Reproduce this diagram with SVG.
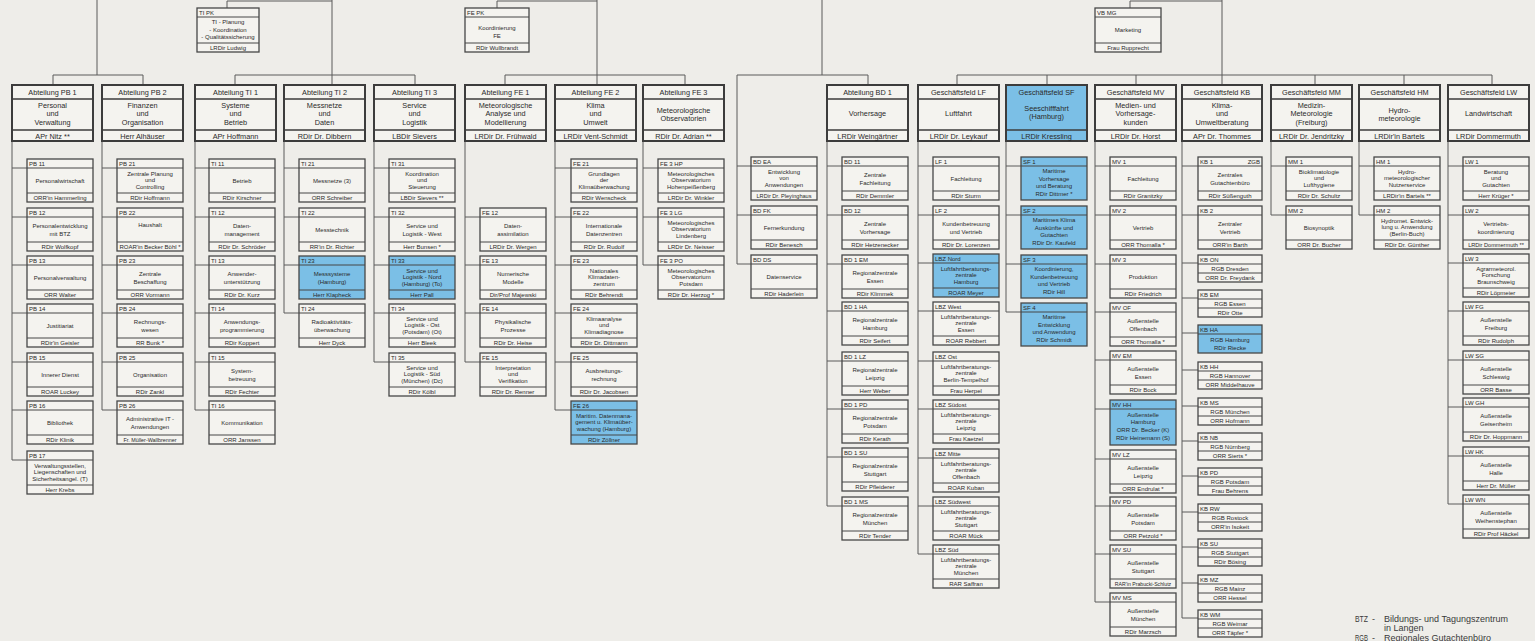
<svg xmlns="http://www.w3.org/2000/svg" width="1535" height="641" viewBox="0 0 1535 641">
<style>
.c{fill:none;stroke:#5a5a5a;stroke-width:1}
.hb{fill:#f4f3ef;stroke:#3c3c3c;stroke-width:2}
.sb{fill:#f4f3ef;stroke:#474747;stroke-width:1.3}
.b{fill:#7bbfe6}
.d{fill:none;stroke:#474747;stroke-width:1}
.hd{fill:none;stroke:#3c3c3c;stroke-width:1.6}
text{font-family:"Liberation Sans",Arial,sans-serif;fill:#2a2a2a}
.h{font-size:7.3px;text-anchor:middle}
.t{font-size:6px}
.m{font-size:6px;text-anchor:middle}
.lg{font-size:9px;fill:#3a3a3a}
</style>
<rect width="1535" height="641" fill="#eeede9"/>
<g id="connectors" class="c">
<path d="M97 0V75M53 85V75H143V85"/>
<path d="M332 0V85M235 85V75H415V85M227 8V1H332"/>
<path d="M597 0V85M505 85V75H685V85M497 8V1H597"/>
<path d="M822 0V75M737 264V75H868V85"/>
<path d="M957 85V75H1492V85M1047 75V85M1136 75V85M1222 0V85M1315 75V85M1404 75V85M1130 8V1H1222"/>
<path d="M12 141V460M12 168H27M12 217H27M12 265H27M12 313H27M12 362H27M12 410H27M12 460H27"/>
<path d="M102 141V410M102 168H117M102 217H117M102 265H117M102 313H117M102 362H117M102 410H117"/>
<path d="M195 141V410M195 168H209M195 217H209M195 265H209M195 313H209M195 362H209M195 410H209"/>
<path d="M284 141V313M284 168H299M284 217H299M284 265H299M284 313H299"/>
<path d="M374 141V362M374 168H389M374 217H389M374 265H389M374 313H389M374 362H389"/>
<path d="M465 141V362M465 217H480M465 265H480M465 313H480M465 362H480"/>
<path d="M555 141V410M555 168H571M555 217H571M555 265H571M555 313H571M555 362H571M555 410H571"/>
<path d="M643 141V265M643 168H658M643 217H658M643 265H658"/>
<path d="M737 166H751M737 215H751M737 264H751"/>
<path d="M827 141V506M827 166H842M827 215H842M827 264H842M827 311H842M827 361H842M827 409H842M827 457H842M827 506H842"/>
<path d="M918 141V554M918 166H933M918 215H933M918 263H933M918 311H933M918 361H933M918 409H933M918 458H933M918 506H933M918 554H933"/>
<path d="M1006 141V312M1006 166H1021M1006 215H1021M1006 264H1021M1006 312H1021"/>
<path d="M1095 141V602M1095 166H1110M1095 215H1110M1095 264H1110M1095 312H1110M1095 360H1110M1095 409H1110M1095 459H1110M1095 506H1110M1095 554H1110M1095 602H1110"/>
<path d="M1182 141V618M1182 166H1198M1182 215H1198M1182 263H1198M1182 298H1198M1182 333H1198M1182 370H1198M1182 406H1198M1182 441H1198M1182 476H1198M1182 512H1198M1182 547H1198M1182 583H1198M1182 618H1198"/>
<path d="M1271 141V215M1271 166H1286M1271 215H1286"/>
<path d="M1359 141V215M1359 166H1374M1359 215H1374"/>
<path d="M1448 141V504M1448 166H1463M1448 215H1463M1448 263H1463M1448 311H1463M1448 360H1463M1448 407H1463M1448 456H1463M1448 504H1463"/>
</g>

<!-- top boxes -->
<g id="n-tipk" transform="translate(197,8)"><rect class="sb" width="62" height="44"/><path class="d" d="M0 9h62M0 35h62"/><text class="t" x="2" y="7">TI PK</text><text class="m" x="31" y="16">TI - Planung<tspan x="31" dy="7.5">- Koordination</tspan><tspan x="31" dy="7.5">- Qualitätssicherung</tspan></text><text class="m" x="31" y="42">LRDir Ludwig</text></g>
<g id="n-fepk" transform="translate(465,8)"><rect class="sb" width="64" height="44"/><path class="d" d="M0 9h64M0 35h64"/><text class="t" x="2" y="7">FE PK</text><text class="m" x="32" y="21.5">Koordinierung<tspan x="32" dy="8.5">FE</tspan></text><text class="m" x="32" y="42">RDir Wullbrandt</text></g>
<g id="n-vbmg" transform="translate(1095,8)"><rect class="sb" width="66" height="44"/><path class="d" d="M0 9h66M0 35h66"/><text class="t" x="2" y="7">VB MG</text><text class="m" x="33" y="24">Marketing</text><text class="m" x="33" y="42">Frau Rupprecht</text></g>

<!-- head boxes -->
<g id="n-pb1" transform="translate(12,85)"><rect class="hb" width="81" height="56"/><path class="hd" d="M0 14h81M0 45h81"/><text class="h" x="40.5" y="10">Abteilung PB 1</text><text class="h" x="40.5" y="22.5">Personal<tspan x="40.5" dy="8.5">und</tspan><tspan x="40.5" dy="8.5">Verwaltung</tspan></text><text class="h" x="40.5" y="53.5">APr Nitz **</text></g>
<g id="n-pb2" transform="translate(102,85)"><rect class="hb" width="81" height="56"/><path class="hd" d="M0 14h81M0 45h81"/><text class="h" x="40.5" y="10">Abteilung PB 2</text><text class="h" x="40.5" y="22.5">Finanzen<tspan x="40.5" dy="8.5">und</tspan><tspan x="40.5" dy="8.5">Organisation</tspan></text><text class="h" x="40.5" y="53.5">Herr Alhäuser</text></g>
<g id="n-ti1" transform="translate(195,85)"><rect class="hb" width="81" height="56"/><path class="hd" d="M0 14h81M0 45h81"/><text class="h" x="40.5" y="10">Abteilung TI 1</text><text class="h" x="40.5" y="22.5">Systeme<tspan x="40.5" dy="8.5">und</tspan><tspan x="40.5" dy="8.5">Betrieb</tspan></text><text class="h" x="40.5" y="53.5">APr Hoffmann</text></g>
<g id="n-ti2" transform="translate(284,85)"><rect class="hb" width="81" height="56"/><path class="hd" d="M0 14h81M0 45h81"/><text class="h" x="40.5" y="10">Abteilung TI 2</text><text class="h" x="40.5" y="22.5">Messnetze<tspan x="40.5" dy="8.5">und</tspan><tspan x="40.5" dy="8.5">Daten</tspan></text><text class="h" x="40.5" y="53.5">RDir Dr. Dibbern</text></g>
<g id="n-ti3" transform="translate(374,85)"><rect class="hb" width="81" height="56"/><path class="hd" d="M0 14h81M0 45h81"/><text class="h" x="40.5" y="10">Abteilung TI 3</text><text class="h" x="40.5" y="22.5">Service<tspan x="40.5" dy="8.5">und</tspan><tspan x="40.5" dy="8.5">Logistik</tspan></text><text class="h" x="40.5" y="53.5">LBDir Sievers</text></g>
<g id="n-fe1" transform="translate(465,85)"><rect class="hb" width="81" height="56"/><path class="hd" d="M0 14h81M0 45h81"/><text class="h" x="40.5" y="10">Abteilung FE 1</text><text class="h" x="40.5" y="22.5">Meteorologische<tspan x="40.5" dy="8.5">Analyse und</tspan><tspan x="40.5" dy="8.5">Modellierung</tspan></text><text class="h" x="40.5" y="53.5">LRDir Dr. Frühwald</text></g>
<g id="n-fe2" transform="translate(555,85)"><rect class="hb" width="81" height="56"/><path class="hd" d="M0 14h81M0 45h81"/><text class="h" x="40.5" y="10">Abteilung FE 2</text><text class="h" x="40.5" y="22.5">Klima<tspan x="40.5" dy="8.5">und</tspan><tspan x="40.5" dy="8.5">Umwelt</tspan></text><text class="h" x="40.5" y="53.5">LRDir Vent-Schmidt</text></g>
<g id="n-fe3" transform="translate(643,85)"><rect class="hb" width="81" height="56"/><path class="hd" d="M0 14h81M0 45h81"/><text class="h" x="40.5" y="10">Abteilung FE 3</text><text class="h" x="40.5" y="27.5">Meteorologische<tspan x="40.5" dy="8.5">Observatorien</tspan></text><text class="h" x="40.5" y="53.5">RDir Dr. Adrian **</text></g>
<g id="n-bd1" transform="translate(827,85)"><rect class="hb" width="81" height="56"/><path class="hd" d="M0 14h81M0 45h81"/><text class="h" x="40.5" y="10">Abteilung BD 1</text><text class="h" x="40.5" y="31">Vorhersage</text><text class="h" x="40.5" y="53.5">LRDir Weingärtner</text></g>
<g id="n-lf" transform="translate(918,85)"><rect class="hb" width="81" height="56"/><path class="hd" d="M0 14h81M0 45h81"/><text class="h" x="40.5" y="10">Geschäftsfeld LF</text><text class="h" x="40.5" y="31">Luftfahrt</text><text class="h" x="40.5" y="53.5">LRDir Dr. Leykauf</text></g>
<g id="n-sf" transform="translate(1006,85)"><rect class="hb b" width="81" height="56"/><path class="hd" d="M0 45h81"/><text class="h" x="40.5" y="10">Geschäftsfeld SF</text><text class="h" x="40.5" y="25.5">Seeschifffahrt<tspan x="40.5" dy="8.5">(Hamburg)</tspan></text><text class="h" x="40.5" y="53.5">LRDir Kressling</text></g>
<g id="n-mv" transform="translate(1095,85)"><rect class="hb" width="81" height="56"/><path class="hd" d="M0 14h81M0 45h81"/><text class="h" x="40.5" y="10">Geschäftsfeld MV</text><text class="h" x="40.5" y="22.5">Medien- und<tspan x="40.5" dy="8.5">Vorhersage-</tspan><tspan x="40.5" dy="8.5">kunden</tspan></text><text class="h" x="40.5" y="53.5">LRDir Dr. Horst</text></g>
<g id="n-kb" transform="translate(1182,85)"><rect class="hb" width="80" height="56"/><path class="hd" d="M0 14h80M0 45h80"/><text class="h" x="40" y="10">Geschäftsfeld KB</text><text class="h" x="40" y="22.5">Klima-<tspan x="40" dy="8.5">und</tspan><tspan x="40" dy="8.5">Umweltberatung</tspan></text><text class="h" x="40" y="53.5">APr Dr. Thommes</text></g>
<g id="n-mm" transform="translate(1271,85)"><rect class="hb" width="81" height="56"/><path class="hd" d="M0 14h81M0 45h81"/><text class="h" x="40.5" y="10">Geschäftsfeld MM</text><text class="h" x="40.5" y="22.5">Medizin-<tspan x="40.5" dy="8.5">Meteorologie</tspan><tspan x="40.5" dy="8.5">(Freiburg)</tspan></text><text class="h" x="40.5" y="53.5">LRDir Dr. Jendritzky</text></g>
<g id="n-hm" transform="translate(1359,85)"><rect class="hb" width="81" height="56"/><path class="hd" d="M0 14h81M0 45h81"/><text class="h" x="40.5" y="10">Geschäftsfeld HM</text><text class="h" x="40.5" y="27.5">Hydro-<tspan x="40.5" dy="8.5">meteorologie</tspan></text><text class="h" x="40.5" y="53.5">LRDir'in Bartels</text></g>
<g id="n-lw" transform="translate(1448,85)"><rect class="hb" width="81" height="56"/><path class="hd" d="M0 14h81M0 45h81"/><text class="h" x="40.5" y="10">Geschäftsfeld LW</text><text class="h" x="40.5" y="31">Landwirtschaft</text><text class="h" x="40.5" y="53.5">LRDir Dommermuth</text></g>

<!-- PB 1 -->
<g id="n-pb11" transform="translate(27,159)"><rect class="sb" width="66" height="43"/><path class="d" d="M0 9h66M0 34h66"/><text class="t" x="2" y="7">PB 11</text><text class="m" x="33" y="24">Personalwirtschaft</text><text class="m" x="33" y="41">ORR'in Hammerling</text></g>
<g id="n-pb12" transform="translate(27,208)"><rect class="sb" width="66" height="43"/><path class="d" d="M0 9h66M0 34h66"/><text class="t" x="2" y="7">PB 12</text><text class="m" x="33" y="20">Personalentwicklung<tspan x="33" dy="7.5">mit BTZ</tspan></text><text class="m" x="33" y="41">RDir Wolfkopf</text></g>
<g id="n-pb13" transform="translate(27,256)"><rect class="sb" width="66" height="43"/><path class="d" d="M0 9h66M0 34h66"/><text class="t" x="2" y="7">PB 13</text><text class="m" x="33" y="24">Personalverwaltung</text><text class="m" x="33" y="41">ORR Walter</text></g>
<g id="n-pb14" transform="translate(27,304)"><rect class="sb" width="66" height="43"/><path class="d" d="M0 9h66M0 34h66"/><text class="t" x="2" y="7">PB 14</text><text class="m" x="33" y="24">Justitiariat</text><text class="m" x="33" y="41">RDir'in Geisler</text></g>
<g id="n-pb15" transform="translate(27,353)"><rect class="sb" width="66" height="43"/><path class="d" d="M0 9h66M0 34h66"/><text class="t" x="2" y="7">PB 15</text><text class="m" x="33" y="24">Innerer Dienst</text><text class="m" x="33" y="41">ROAR Luckey</text></g>
<g id="n-pb16" transform="translate(27,401)"><rect class="sb" width="66" height="43"/><path class="d" d="M0 9h66M0 34h66"/><text class="t" x="2" y="7">PB 16</text><text class="m" x="33" y="24">Bibliothek</text><text class="m" x="33" y="41">RDir Klinik</text></g>
<g id="n-pb17" transform="translate(27,451)"><rect class="sb" width="66" height="43"/><path class="d" d="M0 9h66M0 34h66"/><text class="t" x="2" y="7">PB 17</text><text class="m" x="33" y="16.6">Verwaltungsstellen,<tspan x="33" dy="6.7">Liegenschaften und</tspan><tspan x="33" dy="6.7">Sicherheitsangel. (T)</tspan></text><text class="m" x="33" y="41">Herr Krebs</text></g>
<!-- PB 2 -->
<g id="n-pb21" transform="translate(117,159)"><rect class="sb" width="66" height="43"/><path class="d" d="M0 9h66M0 34h66"/><text class="t" x="2" y="7">PB 21</text><text class="m" x="33" y="16.6">Zentrale Planung<tspan x="33" dy="6.7">und</tspan><tspan x="33" dy="6.7">Controlling</tspan></text><text class="m" x="33" y="41">RDir Hoffmann</text></g>
<g id="n-pb22" transform="translate(117,208)"><rect class="sb" width="66" height="43"/><path class="d" d="M0 9h66M0 34h66"/><text class="t" x="2" y="7">PB 22</text><text class="m" x="33" y="19">Haushalt</text><text class="m" x="33" y="41">ROAR'in Becker Böhl *</text></g>
<g id="n-pb23" transform="translate(117,256)"><rect class="sb" width="66" height="43"/><path class="d" d="M0 9h66M0 34h66"/><text class="t" x="2" y="7">PB 23</text><text class="m" x="33" y="20">Zentrale<tspan x="33" dy="7.5">Beschaffung</tspan></text><text class="m" x="33" y="41">ORR Vormann</text></g>
<g id="n-pb24" transform="translate(117,304)"><rect class="sb" width="66" height="43"/><path class="d" d="M0 9h66M0 34h66"/><text class="t" x="2" y="7">PB 24</text><text class="m" x="33" y="20">Rechnungs-<tspan x="33" dy="7.5">wesen</tspan></text><text class="m" x="33" y="41">RR Bunk *</text></g>
<g id="n-pb25" transform="translate(117,353)"><rect class="sb" width="66" height="43"/><path class="d" d="M0 9h66M0 34h66"/><text class="t" x="2" y="7">PB 25</text><text class="m" x="33" y="24">Organisation</text><text class="m" x="33" y="41">RDir Zankl</text></g>
<g id="n-pb26" transform="translate(117,401)"><rect class="sb" width="66" height="43"/><path class="d" d="M0 9h66M0 34h66"/><text class="t" x="2" y="7">PB 26</text><text class="m" x="33" y="20">Administrative IT -<tspan x="33" dy="7.5">Anwendungen</tspan></text><text class="m" x="33" y="41" style="font-size:5.4px">Fr. Müller-Wallbrenner</text></g>
<!-- TI 1 -->
<g id="n-ti11" transform="translate(209,159)"><rect class="sb" width="66" height="43"/><path class="d" d="M0 9h66M0 34h66"/><text class="t" x="2" y="7">TI 11</text><text class="m" x="33" y="24">Betrieb</text><text class="m" x="33" y="41">RDir Kirschner</text></g>
<g id="n-ti12" transform="translate(209,208)"><rect class="sb" width="66" height="43"/><path class="d" d="M0 9h66M0 34h66"/><text class="t" x="2" y="7">TI 12</text><text class="m" x="33" y="20">Daten-<tspan x="33" dy="7.5">management</tspan></text><text class="m" x="33" y="41">RDir Dr. Schröder</text></g>
<g id="n-ti13" transform="translate(209,256)"><rect class="sb" width="66" height="43"/><path class="d" d="M0 9h66M0 34h66"/><text class="t" x="2" y="7">TI 13</text><text class="m" x="33" y="20">Anwender-<tspan x="33" dy="7.5">unterstützung</tspan></text><text class="m" x="33" y="41">RDir Dr. Kurz</text></g>
<g id="n-ti14" transform="translate(209,304)"><rect class="sb" width="66" height="43"/><path class="d" d="M0 9h66M0 34h66"/><text class="t" x="2" y="7">TI 14</text><text class="m" x="33" y="20">Anwendungs-<tspan x="33" dy="7.5">programmierung</tspan></text><text class="m" x="33" y="41">RDir Koppert</text></g>
<g id="n-ti15" transform="translate(209,353)"><rect class="sb" width="66" height="43"/><path class="d" d="M0 9h66M0 34h66"/><text class="t" x="2" y="7">TI 15</text><text class="m" x="33" y="20">System-<tspan x="33" dy="7.5">betreuung</tspan></text><text class="m" x="33" y="41">RDir Fechter</text></g>
<g id="n-ti16" transform="translate(209,401)"><rect class="sb" width="66" height="43"/><path class="d" d="M0 9h66M0 34h66"/><text class="t" x="2" y="7">TI 16</text><text class="m" x="33" y="24">Kommunikation</text><text class="m" x="33" y="41">ORR Janssen</text></g>
<!-- TI 2 -->
<g id="n-ti21" transform="translate(299,159)"><rect class="sb" width="66" height="43"/><path class="d" d="M0 9h66M0 34h66"/><text class="t" x="2" y="7">TI 21</text><text class="m" x="33" y="24">Messnetze   (3)</text><text class="m" x="33" y="41">ORR Schreiber</text></g>
<g id="n-ti22" transform="translate(299,208)"><rect class="sb" width="66" height="43"/><path class="d" d="M0 9h66M0 34h66"/><text class="t" x="2" y="7">TI 22</text><text class="m" x="33" y="24">Messtechnik</text><text class="m" x="33" y="41">RR'in Dr. Richter</text></g>
<g id="n-ti23" transform="translate(299,256)"><rect class="sb b" width="66" height="43"/><path class="d" d="M0 9h66M0 34h66"/><text class="t" x="2" y="7">TI 23</text><text class="m" x="33" y="20">Messsysteme<tspan x="33" dy="7.5">(Hamburg)</tspan></text><text class="m" x="33" y="41">Herr Klapheck</text></g>
<g id="n-ti24" transform="translate(299,304)"><rect class="sb" width="66" height="43"/><path class="d" d="M0 9h66M0 34h66"/><text class="t" x="2" y="7">TI 24</text><text class="m" x="33" y="20">Radioaktivitäts-<tspan x="33" dy="7.5">überwachung</tspan></text><text class="m" x="33" y="41">Herr Dyck</text></g>
<!-- TI 3 -->
<g id="n-ti31" transform="translate(389,159)"><rect class="sb" width="66" height="43"/><path class="d" d="M0 9h66M0 34h66"/><text class="t" x="2" y="7">TI 31</text><text class="m" x="33" y="16.6">Koordination<tspan x="33" dy="6.7">und</tspan><tspan x="33" dy="6.7">Steuerung</tspan></text><text class="m" x="33" y="41">LBDir Sievers **</text></g>
<g id="n-ti32" transform="translate(389,208)"><rect class="sb" width="66" height="43"/><path class="d" d="M0 9h66M0 34h66"/><text class="t" x="2" y="7">TI 32</text><text class="m" x="33" y="20">Service und<tspan x="33" dy="7.5">Logistik - West</tspan></text><text class="m" x="33" y="41">Herr Bunsen *</text></g>
<g id="n-ti33" transform="translate(389,256)"><rect class="sb b" width="66" height="43"/><path class="d" d="M0 9h66M0 34h66"/><text class="t" x="2" y="7">TI 33</text><text class="m" x="33" y="16.6">Service und<tspan x="33" dy="6.7">Logistik - Nord</tspan><tspan x="33" dy="6.7">(Hamburg)  (To)</tspan></text><text class="m" x="33" y="41">Herr Pall</text></g>
<g id="n-ti34" transform="translate(389,304)"><rect class="sb" width="66" height="43"/><path class="d" d="M0 9h66M0 34h66"/><text class="t" x="2" y="7">TI 34</text><text class="m" x="33" y="16.6">Service und<tspan x="33" dy="6.7">Logistik - Ost</tspan><tspan x="33" dy="6.7">(Potsdam)  (Ot)</tspan></text><text class="m" x="33" y="41">Herr Bleek</text></g>
<g id="n-ti35" transform="translate(389,353)"><rect class="sb" width="66" height="43"/><path class="d" d="M0 9h66M0 34h66"/><text class="t" x="2" y="7">TI 35</text><text class="m" x="33" y="16.6">Service und<tspan x="33" dy="6.7">Logistik - Süd</tspan><tspan x="33" dy="6.7">(München)  (Dc)</tspan></text><text class="m" x="33" y="41">RDir Kölbl</text></g>
<!-- FE 1 -->
<g id="n-fe12" transform="translate(480,208)"><rect class="sb" width="66" height="43"/><path class="d" d="M0 9h66M0 34h66"/><text class="t" x="2" y="7">FE 12</text><text class="m" x="33" y="20">Daten-<tspan x="33" dy="7.5">assimilation</tspan></text><text class="m" x="33" y="41">LRDir Dr. Wergen</text></g>
<g id="n-fe13" transform="translate(480,256)"><rect class="sb" width="66" height="43"/><path class="d" d="M0 9h66M0 34h66"/><text class="t" x="2" y="7">FE 13</text><text class="m" x="33" y="20">Numerische<tspan x="33" dy="7.5">Modelle</tspan></text><text class="m" x="33" y="41">Dir/Prof Majewski</text></g>
<g id="n-fe14" transform="translate(480,304)"><rect class="sb" width="66" height="43"/><path class="d" d="M0 9h66M0 34h66"/><text class="t" x="2" y="7">FE 14</text><text class="m" x="33" y="20">Physikalische<tspan x="33" dy="7.5">Prozesse</tspan></text><text class="m" x="33" y="41">RDir Dr. Heise</text></g>
<g id="n-fe15" transform="translate(480,353)"><rect class="sb" width="66" height="43"/><path class="d" d="M0 9h66M0 34h66"/><text class="t" x="2" y="7">FE 15</text><text class="m" x="33" y="16.6">Interpretation<tspan x="33" dy="6.7">und</tspan><tspan x="33" dy="6.7">Verifikation</tspan></text><text class="m" x="33" y="41">RDir Dr. Renner</text></g>
<!-- FE 2 -->
<g id="n-fe21" transform="translate(571,159)"><rect class="sb" width="66" height="43"/><path class="d" d="M0 9h66M0 34h66"/><text class="t" x="2" y="7">FE 21</text><text class="m" x="33" y="16.6">Grundlagen<tspan x="33" dy="6.7">der</tspan><tspan x="33" dy="6.7">Klimaüberwachung</tspan></text><text class="m" x="33" y="41">RDir Wenscheck</text></g>
<g id="n-fe22" transform="translate(571,208)"><rect class="sb" width="66" height="43"/><path class="d" d="M0 9h66M0 34h66"/><text class="t" x="2" y="7">FE 22</text><text class="m" x="33" y="20">Internationale<tspan x="33" dy="7.5">Datenzentren</tspan></text><text class="m" x="33" y="41">RDir Dr. Rudolf</text></g>
<g id="n-fe23" transform="translate(571,256)"><rect class="sb" width="66" height="43"/><path class="d" d="M0 9h66M0 34h66"/><text class="t" x="2" y="7">FE 23</text><text class="m" x="33" y="16.6">Nationales<tspan x="33" dy="6.7">Klimadaten-</tspan><tspan x="33" dy="6.7">zentrum</tspan></text><text class="m" x="33" y="41">RDir Behrendt</text></g>
<g id="n-fe24" transform="translate(571,304)"><rect class="sb" width="66" height="43"/><path class="d" d="M0 9h66M0 34h66"/><text class="t" x="2" y="7">FE 24</text><text class="m" x="33" y="16.6">Klimaanalyse<tspan x="33" dy="6.7">und</tspan><tspan x="33" dy="6.7">Klimadiagnose</tspan></text><text class="m" x="33" y="41">RDir Dr. Dittmann</text></g>
<g id="n-fe25" transform="translate(571,353)"><rect class="sb" width="66" height="43"/><path class="d" d="M0 9h66M0 34h66"/><text class="t" x="2" y="7">FE 25</text><text class="m" x="33" y="20">Ausbreitungs-<tspan x="33" dy="7.5">rechnung</tspan></text><text class="m" x="33" y="41">RDir Dr. Jacobsen</text></g>
<g id="n-fe26" transform="translate(571,401)"><rect class="sb b" width="66" height="43"/><path class="d" d="M0 9h66M0 34h66"/><text class="t" x="2" y="7">FE 26</text><text class="m" x="33" y="16.6">Maritim. Datenmana-<tspan x="33" dy="6.7">gement u. Klimaüber-</tspan><tspan x="33" dy="6.7">wachung (Hamburg)</tspan></text><text class="m" x="33" y="41">RDir Zöllner</text></g>
<!-- FE 3 -->
<g id="n-fe3hp" transform="translate(658,159)"><rect class="sb" width="66" height="43"/><path class="d" d="M0 9h66M0 34h66"/><text class="t" x="2" y="7">FE 3 HP</text><text class="m" x="33" y="16.6">Meteorologisches<tspan x="33" dy="6.7">Observatorium</tspan><tspan x="33" dy="6.7">Hohenpeißenberg</tspan></text><text class="m" x="33" y="41">LRDir Dr. Winkler</text></g>
<g id="n-fe3lg" transform="translate(658,208)"><rect class="sb" width="66" height="43"/><path class="d" d="M0 9h66M0 34h66"/><text class="t" x="2" y="7">FE 3 LG</text><text class="m" x="33" y="16.6">Meteorologisches<tspan x="33" dy="6.7">Observatorium</tspan><tspan x="33" dy="6.7">Lindenberg</tspan></text><text class="m" x="33" y="41">LRDir Dr. Neisser</text></g>
<g id="n-fe3po" transform="translate(658,256)"><rect class="sb" width="66" height="43"/><path class="d" d="M0 9h66M0 34h66"/><text class="t" x="2" y="7">FE 3 PO</text><text class="m" x="33" y="16.6">Meteorologisches<tspan x="33" dy="6.7">Observatorium</tspan><tspan x="33" dy="6.7">Potsdam</tspan></text><text class="m" x="33" y="41">RDir Dr. Herzog *</text></g>
<!-- BD -->
<g id="n-bdea" transform="translate(751,157)"><rect class="sb" width="66" height="43"/><path class="d" d="M0 9h66M0 34h66"/><text class="t" x="2" y="7">BD EA</text><text class="m" x="33" y="16.6">Entwicklung<tspan x="33" dy="6.7">von</tspan><tspan x="33" dy="6.7">Anwendungen</tspan></text><text class="m" x="33" y="41" style="font-size:5.6px">LRDir Dr. Pleyinghaus</text></g>
<g id="n-bdfk" transform="translate(751,206)"><rect class="sb" width="66" height="43"/><path class="d" d="M0 9h66M0 34h66"/><text class="t" x="2" y="7">BD FK</text><text class="m" x="33" y="24">Fernerkundung</text><text class="m" x="33" y="41">RDir Benesch</text></g>
<g id="n-bdds" transform="translate(751,255)"><rect class="sb" width="66" height="43"/><path class="d" d="M0 9h66M0 34h66"/><text class="t" x="2" y="7">BD DS</text><text class="m" x="33" y="24">Datenservice</text><text class="m" x="33" y="41">RDir Haderlein</text></g>
<!-- BD 1 -->
<g id="n-bd11" transform="translate(842,157)"><rect class="sb" width="66" height="43"/><path class="d" d="M0 9h66M0 34h66"/><text class="t" x="2" y="7">BD 11</text><text class="m" x="33" y="20">Zentrale<tspan x="33" dy="7.5">Fachleitung</tspan></text><text class="m" x="33" y="41">RDir Demmler</text></g>
<g id="n-bd12" transform="translate(842,206)"><rect class="sb" width="66" height="43"/><path class="d" d="M0 9h66M0 34h66"/><text class="t" x="2" y="7">BD 12</text><text class="m" x="33" y="20">Zentrale<tspan x="33" dy="7.5">Vorhersage</tspan></text><text class="m" x="33" y="41">RDir Hetzenecker</text></g>
<g id="n-bd1em" transform="translate(842,255)"><rect class="sb" width="66" height="43"/><path class="d" d="M0 9h66M0 34h66"/><text class="t" x="2" y="7">BD 1 EM</text><text class="m" x="33" y="20">Regionalzentrale<tspan x="33" dy="7.5">Essen</tspan></text><text class="m" x="33" y="41">RDir Klimmek</text></g>
<g id="n-bd1ha" transform="translate(842,302)"><rect class="sb" width="66" height="43"/><path class="d" d="M0 9h66M0 34h66"/><text class="t" x="2" y="7">BD 1 HA</text><text class="m" x="33" y="20">Regionalzentrale<tspan x="33" dy="7.5">Hamburg</tspan></text><text class="m" x="33" y="41">RDir Seifert</text></g>
<g id="n-bd1lz" transform="translate(842,352)"><rect class="sb" width="66" height="43"/><path class="d" d="M0 9h66M0 34h66"/><text class="t" x="2" y="7">BD 1 LZ</text><text class="m" x="33" y="20">Regionalzentrale<tspan x="33" dy="7.5">Leipzig</tspan></text><text class="m" x="33" y="41">Herr Weber</text></g>
<g id="n-bd1pd" transform="translate(842,400)"><rect class="sb" width="66" height="43"/><path class="d" d="M0 9h66M0 34h66"/><text class="t" x="2" y="7">BD 1 PD</text><text class="m" x="33" y="20">Regionalzentrale<tspan x="33" dy="7.5">Potsdam</tspan></text><text class="m" x="33" y="41">RDir Kerath</text></g>
<g id="n-bd1su" transform="translate(842,448)"><rect class="sb" width="66" height="43"/><path class="d" d="M0 9h66M0 34h66"/><text class="t" x="2" y="7">BD 1 SU</text><text class="m" x="33" y="20">Regionalzentrale<tspan x="33" dy="7.5">Stuttgart</tspan></text><text class="m" x="33" y="41">RDir Pfleiderer</text></g>
<g id="n-bd1ms" transform="translate(842,497)"><rect class="sb" width="66" height="43"/><path class="d" d="M0 9h66M0 34h66"/><text class="t" x="2" y="7">BD 1 MS</text><text class="m" x="33" y="20">Regionalzentrale<tspan x="33" dy="7.5">München</tspan></text><text class="m" x="33" y="41">RDir Tender</text></g>
<!-- LF -->
<g id="n-lf1" transform="translate(933,157)"><rect class="sb" width="66" height="43"/><path class="d" d="M0 9h66M0 34h66"/><text class="t" x="2" y="7">LF 1</text><text class="m" x="33" y="24">Fachleitung</text><text class="m" x="33" y="41">RDir Sturm</text></g>
<g id="n-lf2" transform="translate(933,206)"><rect class="sb" width="66" height="43"/><path class="d" d="M0 9h66M0 34h66"/><text class="t" x="2" y="7">LF 2</text><text class="m" x="33" y="20">Kundenbetreuung<tspan x="33" dy="7.5">und Vertrieb</tspan></text><text class="m" x="33" y="41">RDir Dr. Lorenzen</text></g>
<g id="n-lbznord" transform="translate(933,254)"><rect class="sb b" width="66" height="43"/><path class="d" d="M0 9h66M0 34h66"/><text class="t" x="2" y="7">LBZ Nord</text><text class="m" x="33" y="16.6">Luftfahrtberatungs-<tspan x="33" dy="6.7">zentrale</tspan><tspan x="33" dy="6.7">Hamburg</tspan></text><text class="m" x="33" y="41">ROAR Meyer</text></g>
<g id="n-lbzwest" transform="translate(933,302)"><rect class="sb" width="66" height="43"/><path class="d" d="M0 9h66M0 34h66"/><text class="t" x="2" y="7">LBZ West</text><text class="m" x="33" y="16.6">Luftfahrtberatungs-<tspan x="33" dy="6.7">zentrale</tspan><tspan x="33" dy="6.7">Essen</tspan></text><text class="m" x="33" y="41">ROAR Rebbert</text></g>
<g id="n-lbzost" transform="translate(933,352)"><rect class="sb" width="66" height="43"/><path class="d" d="M0 9h66M0 34h66"/><text class="t" x="2" y="7">LBZ Ost</text><text class="m" x="33" y="16.6">Luftfahrtberatungs-<tspan x="33" dy="6.7">zentrale</tspan><tspan x="33" dy="6.7">Berlin-Tempelhof</tspan></text><text class="m" x="33" y="41">Frau Herpel</text></g>
<g id="n-lbzsuedost" transform="translate(933,400)"><rect class="sb" width="66" height="43"/><path class="d" d="M0 9h66M0 34h66"/><text class="t" x="2" y="7">LBZ Südost</text><text class="m" x="33" y="16.6">Luftfahrtberatungs-<tspan x="33" dy="6.7">zentrale</tspan><tspan x="33" dy="6.7">Leipzig</tspan></text><text class="m" x="33" y="41">Frau Kaetzel</text></g>
<g id="n-lbzmitte" transform="translate(933,449)"><rect class="sb" width="66" height="43"/><path class="d" d="M0 9h66M0 34h66"/><text class="t" x="2" y="7">LBZ Mitte</text><text class="m" x="33" y="16.6">Luftfahrtberatungs-<tspan x="33" dy="6.7">zentrale</tspan><tspan x="33" dy="6.7">Offenbach</tspan></text><text class="m" x="33" y="41">ROAR Kuban</text></g>
<g id="n-lbzsuedwest" transform="translate(933,497)"><rect class="sb" width="66" height="43"/><path class="d" d="M0 9h66M0 34h66"/><text class="t" x="2" y="7">LBZ Südwest</text><text class="m" x="33" y="16.6">Luftfahrtberatungs-<tspan x="33" dy="6.7">zentrale</tspan><tspan x="33" dy="6.7">Stuttgart</tspan></text><text class="m" x="33" y="41">ROAR Mück</text></g>
<g id="n-lbzsued" transform="translate(933,545)"><rect class="sb" width="66" height="43"/><path class="d" d="M0 9h66M0 34h66"/><text class="t" x="2" y="7">LBZ Süd</text><text class="m" x="33" y="16.6">Luftfahrtberatungs-<tspan x="33" dy="6.7">zentrale</tspan><tspan x="33" dy="6.7">München</tspan></text><text class="m" x="33" y="41">RAR Saffran</text></g>
<!-- SF -->
<g id="n-sf1" transform="translate(1021,157)"><rect class="sb b" width="66" height="43"/><path class="d" d="M0 9h66"/><text class="t" x="2" y="7">SF 1</text><text class="m" x="33" y="16">Maritime<tspan x="33" dy="7.6">Vorhersage</tspan><tspan x="33" dy="7.6">und Beratung</tspan><tspan x="33" dy="7.6">RDir Dittmer *</tspan></text></g>
<g id="n-sf2" transform="translate(1021,206)"><rect class="sb b" width="66" height="43"/><path class="d" d="M0 9h66"/><text class="t" x="2" y="7">SF 2</text><text class="m" x="33" y="16">Maritimes Klima<tspan x="33" dy="7.6">Auskünfte und</tspan><tspan x="33" dy="7.6">Gutachten</tspan><tspan x="33" dy="7.6">RDir Dr. Kaufeld</tspan></text></g>
<g id="n-sf3" transform="translate(1021,255)"><rect class="sb b" width="66" height="43"/><path class="d" d="M0 9h66"/><text class="t" x="2" y="7">SF 3</text><text class="m" x="33" y="16">Koordinierung,<tspan x="33" dy="7.6">Kundenbetreuung</tspan><tspan x="33" dy="7.6">und Vertrieb</tspan><tspan x="33" dy="7.6">RDir Hill</tspan></text></g>
<g id="n-sf4" transform="translate(1021,303)"><rect class="sb b" width="66" height="43"/><path class="d" d="M0 9h66"/><text class="t" x="2" y="7">SF 4</text><text class="m" x="33" y="16">Maritime<tspan x="33" dy="7.6">Entwicklung</tspan><tspan x="33" dy="7.6">und Anwendung</tspan><tspan x="33" dy="7.6">RDir Schmidt</tspan></text></g>
<!-- MV -->
<g id="n-mv1" transform="translate(1110,157)"><rect class="sb" width="66" height="43"/><path class="d" d="M0 9h66M0 34h66"/><text class="t" x="2" y="7">MV 1</text><text class="m" x="33" y="24">Fachleitung</text><text class="m" x="33" y="41">RDir Granitzky</text></g>
<g id="n-mv2" transform="translate(1110,206)"><rect class="sb" width="66" height="43"/><path class="d" d="M0 9h66M0 34h66"/><text class="t" x="2" y="7">MV 2</text><text class="m" x="33" y="24">Vertrieb</text><text class="m" x="33" y="41">ORR Thomalla *</text></g>
<g id="n-mv3" transform="translate(1110,255)"><rect class="sb" width="66" height="43"/><path class="d" d="M0 9h66M0 34h66"/><text class="t" x="2" y="7">MV 3</text><text class="m" x="33" y="24">Produktion</text><text class="m" x="33" y="41">RDir Friedrich</text></g>
<g id="n-mvof" transform="translate(1110,303)"><rect class="sb" width="66" height="43"/><path class="d" d="M0 9h66M0 34h66"/><text class="t" x="2" y="7">MV OF</text><text class="m" x="33" y="20">Außenstelle<tspan x="33" dy="7.5">Offenbach</tspan></text><text class="m" x="33" y="41">ORR Thomalla *</text></g>
<g id="n-mvem" transform="translate(1110,351)"><rect class="sb" width="66" height="43"/><path class="d" d="M0 9h66M0 34h66"/><text class="t" x="2" y="7">MV EM</text><text class="m" x="33" y="20">Außenstelle<tspan x="33" dy="7.5">Essen</tspan></text><text class="m" x="33" y="41">RDir Bock</text></g>
<g id="n-mvhh" transform="translate(1110,400)"><rect class="sb b" width="66" height="45"/><path class="d" d="M0 9h66"/><text class="t" x="2" y="7">MV HH</text><text class="m" x="33" y="16.5">Außenstelle<tspan x="33" dy="7.8">Hamburg</tspan><tspan x="33" dy="7.8">ORR Dr. Becker  (K)</tspan><tspan x="33" dy="7.8">RDir Heinemann  (S)</tspan></text></g>
<g id="n-mvlz" transform="translate(1110,450)"><rect class="sb" width="66" height="43"/><path class="d" d="M0 9h66M0 34h66"/><text class="t" x="2" y="7">MV LZ</text><text class="m" x="33" y="20">Außenstelle<tspan x="33" dy="7.5">Leipzig</tspan></text><text class="m" x="33" y="41">ORR Endrulat *</text></g>
<g id="n-mvpd" transform="translate(1110,497)"><rect class="sb" width="66" height="43"/><path class="d" d="M0 9h66M0 34h66"/><text class="t" x="2" y="7">MV PD</text><text class="m" x="33" y="20">Außenstelle<tspan x="33" dy="7.5">Potsdam</tspan></text><text class="m" x="33" y="41">ORR Petzold *</text></g>
<g id="n-mvsu" transform="translate(1110,545)"><rect class="sb" width="66" height="43"/><path class="d" d="M0 9h66M0 34h66"/><text class="t" x="2" y="7">MV SU</text><text class="m" x="33" y="20">Außenstelle<tspan x="33" dy="7.5">Stuttgart</tspan></text><text class="m" x="33" y="41" style="font-size:5.2px">RAR'in Prabucki-Schlutz</text></g>
<g id="n-mvms" transform="translate(1110,593)"><rect class="sb" width="66" height="43"/><path class="d" d="M0 9h66M0 34h66"/><text class="t" x="2" y="7">MV MS</text><text class="m" x="33" y="20">Außenstelle<tspan x="33" dy="7.5">München</tspan></text><text class="m" x="33" y="41">RDir Marzsch</text></g>
<!-- KB -->
<g id="n-kb1" transform="translate(1198,157)"><rect class="sb" width="64" height="43"/><path class="d" d="M0 9h64M0 34h64"/><text class="t" x="2" y="7">KB 1</text><text class="t" x="62" y="7" text-anchor="end">ZGB</text><text class="m" x="32" y="20">Zentrales<tspan x="32" dy="7.5">Gutachtenbüro</tspan></text><text class="m" x="32" y="41">RDir Süßenguth</text></g>
<g id="n-kb2" transform="translate(1198,206)"><rect class="sb" width="64" height="43"/><path class="d" d="M0 9h64M0 34h64"/><text class="t" x="2" y="7">KB 2</text><text class="m" x="32" y="20">Zentraler<tspan x="32" dy="7.5">Vertrieb</tspan></text><text class="m" x="32" y="41">ORR'in Barth</text></g>
<g id="n-kbon" transform="translate(1198,255)"><rect class="sb" width="64" height="27"/><path class="d" d="M0 9h64M0 18h64"/><text class="t" x="2" y="7">KB ON</text><text class="m" x="32" y="16">RGB Dresden</text><text class="m" x="32" y="25">ORR Dr. Freydank</text></g>
<g id="n-kbem" transform="translate(1198,290)"><rect class="sb" width="64" height="27"/><path class="d" d="M0 9h64M0 18h64"/><text class="t" x="2" y="7">KB EM</text><text class="m" x="32" y="16">RGB Essen</text><text class="m" x="32" y="25">RDir Otte</text></g>
<g id="n-kbha" transform="translate(1198,325)"><rect class="sb b" width="64" height="28"/><path class="d" d="M0 9h64"/><text class="t" x="2" y="7">KB HA</text><text class="m" x="32" y="16.5">RGB Hamburg<tspan x="32" dy="8">RDir Riecke</tspan></text></g>
<g id="n-kbhh" transform="translate(1198,362)"><rect class="sb" width="64" height="27"/><path class="d" d="M0 9h64M0 18h64"/><text class="t" x="2" y="7">KB HH</text><text class="m" x="32" y="16">RGB Hannover</text><text class="m" x="32" y="25">ORR Middelhauve</text></g>
<g id="n-kbms" transform="translate(1198,398)"><rect class="sb" width="64" height="27"/><path class="d" d="M0 9h64M0 18h64"/><text class="t" x="2" y="7">KB MS</text><text class="m" x="32" y="16">RGB München</text><text class="m" x="32" y="25">ORR Hofmann</text></g>
<g id="n-kbnb" transform="translate(1198,433)"><rect class="sb" width="64" height="27"/><path class="d" d="M0 9h64M0 18h64"/><text class="t" x="2" y="7">KB NB</text><text class="m" x="32" y="16">RGB Nürnberg</text><text class="m" x="32" y="25">ORR Sierts *</text></g>
<g id="n-kbpd" transform="translate(1198,468)"><rect class="sb" width="64" height="27"/><path class="d" d="M0 9h64M0 18h64"/><text class="t" x="2" y="7">KB PD</text><text class="m" x="32" y="16">RGB Potsdam</text><text class="m" x="32" y="25">Frau Behrens</text></g>
<g id="n-kbrw" transform="translate(1198,504)"><rect class="sb" width="64" height="27"/><path class="d" d="M0 9h64M0 18h64"/><text class="t" x="2" y="7">KB RW</text><text class="m" x="32" y="16">RGB Rostock</text><text class="m" x="32" y="25">ORR'in Isokeit</text></g>
<g id="n-kbsu" transform="translate(1198,539)"><rect class="sb" width="64" height="27"/><path class="d" d="M0 9h64M0 18h64"/><text class="t" x="2" y="7">KB SU</text><text class="m" x="32" y="16">RGB Stuttgart</text><text class="m" x="32" y="25">RDir Bösing</text></g>
<g id="n-kbmz" transform="translate(1198,575)"><rect class="sb" width="64" height="27"/><path class="d" d="M0 9h64M0 18h64"/><text class="t" x="2" y="7">KB MZ</text><text class="m" x="32" y="16">RGB Mainz</text><text class="m" x="32" y="25">ORR Hessel</text></g>
<g id="n-kbwm" transform="translate(1198,610)"><rect class="sb" width="64" height="27"/><path class="d" d="M0 9h64M0 18h64"/><text class="t" x="2" y="7">KB WM</text><text class="m" x="32" y="16">RGB Weimar</text><text class="m" x="32" y="25">ORR Täpfer *</text></g>
<!-- MM -->
<g id="n-mm1" transform="translate(1286,157)"><rect class="sb" width="66" height="43"/><path class="d" d="M0 9h66M0 34h66"/><text class="t" x="2" y="7">MM 1</text><text class="m" x="33" y="16.6">Bioklimatologie<tspan x="33" dy="6.7">und</tspan><tspan x="33" dy="6.7">Lufthygiene</tspan></text><text class="m" x="33" y="41">RDir Dr. Schultz</text></g>
<g id="n-mm2" transform="translate(1286,206)"><rect class="sb" width="66" height="43"/><path class="d" d="M0 9h66M0 34h66"/><text class="t" x="2" y="7">MM 2</text><text class="m" x="33" y="24">Biosynoptik</text><text class="m" x="33" y="41">ORR Dr. Bucher</text></g>
<!-- HM -->
<g id="n-hm1" transform="translate(1374,157)"><rect class="sb" width="66" height="43"/><path class="d" d="M0 9h66M0 34h66"/><text class="t" x="2" y="7">HM 1</text><text class="m" x="33" y="16.6">Hydro-<tspan x="33" dy="6.7">meteorologischer</tspan><tspan x="33" dy="6.7">Nutzerservice</tspan></text><text class="m" x="33" y="41">LRDir'in Bartels **</text></g>
<g id="n-hm2" transform="translate(1374,206)"><rect class="sb" width="66" height="43"/><path class="d" d="M0 9h66M0 34h66"/><text class="t" x="2" y="7">HM 2</text><text class="m" x="33" y="16.6">Hydromet. Entwick-<tspan x="33" dy="6.7">lung u. Anwendung</tspan><tspan x="33" dy="6.7">(Berlin-Buch)</tspan></text><text class="m" x="33" y="41">RDir Dr. Günther</text></g>
<!-- LW -->
<g id="n-lw1" transform="translate(1463,157)"><rect class="sb" width="66" height="43"/><path class="d" d="M0 9h66M0 34h66"/><text class="t" x="2" y="7">LW 1</text><text class="m" x="33" y="16.6">Beratung<tspan x="33" dy="6.7">und</tspan><tspan x="33" dy="6.7">Gutachten</tspan></text><text class="m" x="33" y="41">Herr Krüger *</text></g>
<g id="n-lw2" transform="translate(1463,206)"><rect class="sb" width="66" height="43"/><path class="d" d="M0 9h66M0 34h66"/><text class="t" x="2" y="7">LW 2</text><text class="m" x="33" y="20">Vertriebs-<tspan x="33" dy="7.5">koordinierung</tspan></text><text class="m" x="33" y="41" style="font-size:5.6px">LRDir Dommermuth **</text></g>
<g id="n-lw3" transform="translate(1463,254)"><rect class="sb" width="66" height="43"/><path class="d" d="M0 9h66M0 34h66"/><text class="t" x="2" y="7">LW 3</text><text class="m" x="33" y="16.6">Agrarmeteorol.<tspan x="33" dy="6.7">Forschung</tspan><tspan x="33" dy="6.7">Braunschweig</tspan></text><text class="m" x="33" y="41">RDir Löpmeier</text></g>
<g id="n-lwfg" transform="translate(1463,302)"><rect class="sb" width="66" height="43"/><path class="d" d="M0 9h66M0 34h66"/><text class="t" x="2" y="7">LW FG</text><text class="m" x="33" y="20">Außenstelle<tspan x="33" dy="7.5">Freiburg</tspan></text><text class="m" x="33" y="41">RDir Rudolph</text></g>
<g id="n-lwsg" transform="translate(1463,351)"><rect class="sb" width="66" height="43"/><path class="d" d="M0 9h66M0 34h66"/><text class="t" x="2" y="7">LW SG</text><text class="m" x="33" y="20">Außenstelle<tspan x="33" dy="7.5">Schleswig</tspan></text><text class="m" x="33" y="41">ORR Basse</text></g>
<g id="n-lwgh" transform="translate(1463,398)"><rect class="sb" width="66" height="43"/><path class="d" d="M0 9h66M0 34h66"/><text class="t" x="2" y="7">LW GH</text><text class="m" x="33" y="20">Außenstelle<tspan x="33" dy="7.5">Geisenheim</tspan></text><text class="m" x="33" y="41">RDir Dr. Hoppmann</text></g>
<g id="n-lwhk" transform="translate(1463,447)"><rect class="sb" width="66" height="43"/><path class="d" d="M0 9h66M0 34h66"/><text class="t" x="2" y="7">LW HK</text><text class="m" x="33" y="20">Außenstelle<tspan x="33" dy="7.5">Halle</tspan></text><text class="m" x="33" y="41">Herr Dr. Müller</text></g>
<g id="n-lwwn" transform="translate(1463,495)"><rect class="sb" width="66" height="43"/><path class="d" d="M0 9h66M0 34h66"/><text class="t" x="2" y="7">LW WN</text><text class="m" x="33" y="20">Außenstelle<tspan x="33" dy="7.5">Weihenstephan</tspan></text><text class="m" x="33" y="41">RDir Prof Häckel</text></g>

<!-- legend -->
<g id="legend">
<text class="lg" x="1355" y="622" textLength="13" lengthAdjust="spacingAndGlyphs">BTZ</text><text class="lg" x="1372" y="622">-</text><text class="lg" x="1384" y="622">Bildungs- und Tagungszentrum</text>
<text class="lg" x="1384" y="631">in Langen</text>
<text class="lg" x="1355" y="641" textLength="13" lengthAdjust="spacingAndGlyphs">RGB</text><text class="lg" x="1372" y="641">-</text><text class="lg" x="1384" y="641">Regionales Gutachtenbüro</text>
</g>
</svg>
